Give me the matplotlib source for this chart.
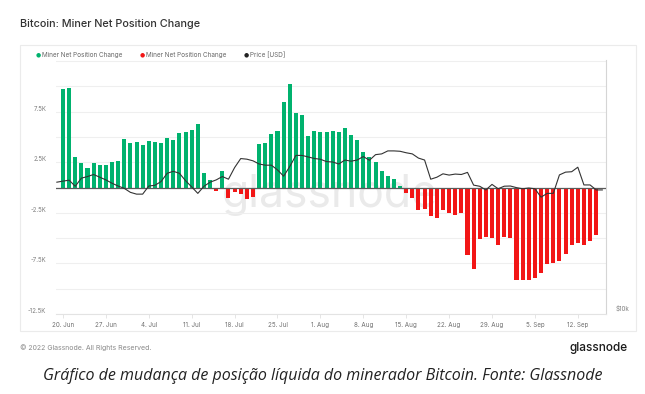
import numpy as np
import pandas as pd
import matplotlib
matplotlib.use("Agg")
import matplotlib.pyplot as plt
import matplotlib.dates as mdates
from matplotlib.patches import Rectangle
from matplotlib.ticker import FixedLocator, NullLocator

# daily miner net position change (BTC), 20 Jun .. 15 Sep 2022
bar_dates = pd.date_range("2022-06-20", periods=88, freq="D")
net_change = np.array([
    9.7, 9.87, 3.0, 2.38, 1.91, 2.38, 2.18, 2.2, 2.5, 2.64,
    4.79, 4.42, 4.46, 4.22, 4.59, 4.52, 4.42, 4.92, 4.69, 5.41,
    5.51, 5.64, 6.27, 1.39, 0.73, -0.33, 1.62, -1.06, -0.43, -0.63,
    -1.12, -0.92, 4.29, 4.42, 5.28, 5.58, 8.48, 10.2, 7.36, 7.16,
    5.05, 5.58, 5.45, 5.45, 5.58, 5.48, 5.87, 5.15, 4.69, 3.5,
    2.97, 2.5, 1.68, 1.12, 0.8, 0.17, -0.5, -1.02, -2.18, -2.11,
    -2.8, -3.0, -2.18, -2.54, -2.74, -2.48, -6.67, -8.05, -5.05, -4.92,
    -4.98, -5.64, -4.88, -4.98, -9.1, -9.14, -9.17, -8.91, -8.48, -7.52,
    -7.49, -7.26, -6.6, -5.71, -5.51, -5.71, -5.28, -4.72,
]) * 1000

# BTC price (USD), 19 Jun .. 16 Sep 2022
price_dates = pd.date_range("2022-06-19", periods=90, freq="D")
price = np.array([
    20.43, 20.55, 20.66, 19.97, 20.89, 21.08, 21.32, 21.00, 20.69, 20.31, 20.00, 19.74,
    19.31, 19.12, 19.12, 20.00, 20.08, 20.5, 21.46, 21.70, 21.46, 20.6,
    19.9, 19.2, 19.97, 20.43, 20.69, 21.08, 20.77, 22.15, 23.29, 23.21,
    23.0, 22.6, 22.45, 22.45, 21.87, 21.12, 22.28, 23.7, 23.7, 23.5, 23.3,
    23.2, 22.9, 22.85, 22.6, 23.1, 22.95, 23.1, 23.55, 23.07, 23.8,
    23.9, 24.3, 24.3, 24.25, 24.05, 23.9, 23.35, 23.1, 20.77, 21.0,
    21.4, 21.25, 21.37, 21.32, 21.57, 20.1, 19.97, 19.57, 20.18, 19.7, 19.98,
    20.0, 19.82, 19.7, 19.78, 19.7, 18.8, 19.2, 19.2, 21.27, 21.6,
    21.65, 22.2, 20.12, 20.12, 19.57, 19.57,
]) * 1000

x_ticks = pd.date_range("2022-06-20", periods=13, freq="7D")
x_labels = ["20. Jun", "27. Jun", "4. Jul", "11. Jul", "18. Jul", "25. Jul", "1. Aug",
            "8. Aug", "15. Aug", "22. Aug", "29. Aug", "5. Sep", "12. Sep"]
y_ticks = np.arange(-12500, 12501, 2500)
y_labels = {7500: "7.5K", 2500: "2.5K", -2500: "-2.5K", -7500: "-7.5K", -12500: "-12.5K"}

GREEN = "#00b26e"
RED = "#f21616"
FONT = ["Inter", "DejaVu Sans"]
plt.rcParams["font.family"] = FONT

W, H = 645, 394
fig = plt.figure(figsize=(W / 100, H / 100), dpi=100)

def fx(px):
    return px / W

def fy(py):
    return 1 - py / H

# card frame
fig.patches.append(Rectangle((fx(20), fy(331)), fx(616), 286 / H, fill=False,
                             edgecolor="#ebebeb", lw=0.8, transform=fig.transFigure))

ax = fig.add_axes([fx(56), fy(314), fx(550), 254 / H])
x0 = mdates.date2num(pd.Timestamp("2022-06-20"))
ax.set_xlim(x0 - 1.14, x0 + 88.6)
ax.set_ylim(-12500, 12600)

colors = [GREEN if v >= 0 else RED for v in net_change]
ax.bar(bar_dates, net_change, width=0.66, color=colors, zorder=2)
ax.axhline(0, color="#5a5a5a", lw=0.9, zorder=3)

ax.set_yticks(y_ticks)
ax.set_yticklabels([y_labels.get(int(v), "") for v in y_ticks])
ax.yaxis.grid(True, color="#efefef", lw=0.8, zorder=0)
ax.set_axisbelow(True)
ax.tick_params(axis="y", length=0, labelsize=4.4, labelcolor="#808080", pad=7)
for lbl in ax.get_yticklabels():
    lbl.set_verticalalignment("bottom")

ax.set_xticks(x_ticks)
ax.set_xticklabels(x_labels)
ax.tick_params(axis="x", length=3, width=0.6, color="#e0e0e0",
               labelsize=4.5, labelcolor="#707070", pad=2.5)

for s in ("left", "top"):
    ax.spines[s].set_visible(False)
ax.spines["right"].set_color("#d5d5d5")
ax.spines["bottom"].set_color("#e3e3e3")
ax.spines["bottom"].set_linewidth(0.8)

ax.text(0.498, 0.47, "glassnode", transform=ax.transAxes, ha="center", va="center",
        fontsize=32, color="#eaeaea", zorder=0.5)

ax2 = ax.twinx()
ax2.set_yscale("log")
ax2.set_ylim(9835, 40230)
ax2.plot(price_dates, price, color="#333333", lw=0.8, zorder=4)
ax2.yaxis.set_major_locator(FixedLocator([10000]))
ax2.yaxis.set_minor_locator(NullLocator())
ax2.set_yticklabels(["$10k"])
ax2.tick_params(axis="y", length=0, labelsize=4.5, labelcolor="#808080", pad=7)
for lbl in ax2.get_yticklabels():
    lbl.set_verticalalignment("bottom")
for s in ax2.spines.values():
    s.set_visible(False)

# title and legend
fig.text(fx(20), fy(24), "Bitcoin: Miner Net Position Change", fontsize=7.8,
         color="#333333", va="center", ha="left", fontweight="medium")
legend_items = [(38, GREEN, "Miner Net Position Change"),
                (142, RED, "Miner Net Position Change"),
                (246, "#222222", "Price [USD]")]
for px, c, label in legend_items:
    fig.text(fx(px), fy(55), "●", fontsize=4.2, color=c, ha="center", va="center",
             family="DejaVu Sans")
    fig.text(fx(px + 4), fy(55), label, fontsize=4.6, color="#666666", ha="left", va="center")

# footer
fig.text(fx(20), fy(348), "© 2022 Glassnode. All Rights Reserved.", fontsize=5,
         color="#8a8a8a", ha="left", va="center")
fig.text(fx(628), fy(348), "glassnode", fontsize=8.5, color="#1a1a1a", ha="right",
         va="center", fontweight="medium")
fig.text(0.5, fy(376), "Gráfico de mudança de posição líquida do minerador Bitcoin. Fonte: Glassnode",
         fontsize=11.5, color="#222222", ha="center", va="center", style="italic",
         family=["Open Sans", "DejaVu Sans"])

fig.savefig("out.png", dpi=100)
